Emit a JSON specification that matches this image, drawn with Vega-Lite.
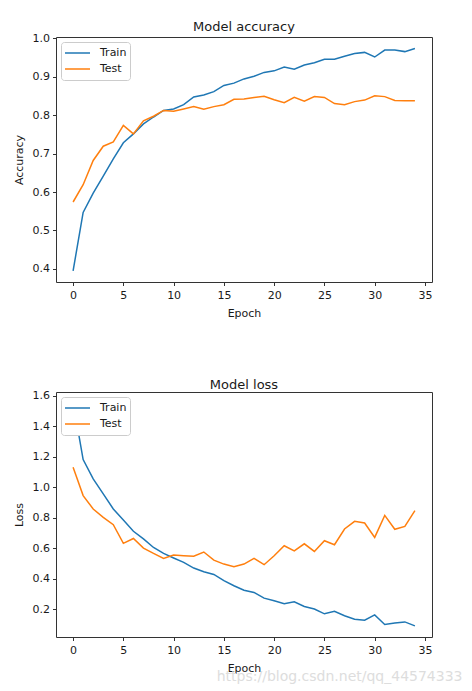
{
  "$schema": "https://vega.github.io/schema/vega-lite/v6.json",
  "padding": {"left": 12, "top": 20, "right": 0, "bottom": 0},
  "background": "white",
  "config": {
    "font": "DejaVu Sans",
    "view": {"stroke": "#333333", "strokeWidth": 1},
    "title": {"fontSize": 13, "fontWeight": "normal", "color": "#1a1a1a", "offset": -2},
    "axis": {
      "domain": false,
      "grid": false,
      "tickColor": "#333333",
      "tickSize": 3.5,
      "labelFontSize": 11,
      "labelColor": "#1a1a1a",
      "labelPadding": 3,
      "titleFontSize": 11,
      "titleFontWeight": "normal",
      "titleColor": "#1a1a1a"
    },
    "axisX": {"labelPadding": 4, "titlePadding": 7},
    "legend": {
      "orient": "top-left",
      "offset": 5,
      "padding": 3,
      "fillColor": "white",
      "strokeColor": "#cccccc",
      "cornerRadius": 3,
      "symbolType": "stroke",
      "symbolSize": 625,
      "symbolStrokeWidth": 1.5,
      "labelFontSize": 11,
      "labelColor": "#1a1a1a",
      "labelOffset": 9,
      "clipHeight": 16,
      "rowPadding": 0
    }
  },
  "title": {
    "text": "https://blog.csdn.net/qq_44574333",
    "orient": "bottom",
    "anchor": "end",
    "fontSize": 14,
    "color": "#dddddd",
    "offset": -4,
    "dx": 30
  },
  "datasets": {
    "accuracy": [
      {"epoch": 0, "set": "Train", "value": 0.395}, {"epoch": 1, "set": "Train", "value": 0.547},
      {"epoch": 2, "set": "Train", "value": 0.597}, {"epoch": 3, "set": "Train", "value": 0.641},
      {"epoch": 4, "set": "Train", "value": 0.686}, {"epoch": 5, "set": "Train", "value": 0.728},
      {"epoch": 6, "set": "Train", "value": 0.751}, {"epoch": 7, "set": "Train", "value": 0.777},
      {"epoch": 8, "set": "Train", "value": 0.795}, {"epoch": 9, "set": "Train", "value": 0.812},
      {"epoch": 10, "set": "Train", "value": 0.816}, {"epoch": 11, "set": "Train", "value": 0.827},
      {"epoch": 12, "set": "Train", "value": 0.847}, {"epoch": 13, "set": "Train", "value": 0.852},
      {"epoch": 14, "set": "Train", "value": 0.861}, {"epoch": 15, "set": "Train", "value": 0.877},
      {"epoch": 16, "set": "Train", "value": 0.883}, {"epoch": 17, "set": "Train", "value": 0.894},
      {"epoch": 18, "set": "Train", "value": 0.901}, {"epoch": 19, "set": "Train", "value": 0.911},
      {"epoch": 20, "set": "Train", "value": 0.915}, {"epoch": 21, "set": "Train", "value": 0.925},
      {"epoch": 22, "set": "Train", "value": 0.919}, {"epoch": 23, "set": "Train", "value": 0.930},
      {"epoch": 24, "set": "Train", "value": 0.936}, {"epoch": 25, "set": "Train", "value": 0.945},
      {"epoch": 26, "set": "Train", "value": 0.945}, {"epoch": 27, "set": "Train", "value": 0.953},
      {"epoch": 28, "set": "Train", "value": 0.960}, {"epoch": 29, "set": "Train", "value": 0.963},
      {"epoch": 30, "set": "Train", "value": 0.951}, {"epoch": 31, "set": "Train", "value": 0.969},
      {"epoch": 32, "set": "Train", "value": 0.969}, {"epoch": 33, "set": "Train", "value": 0.965},
      {"epoch": 34, "set": "Train", "value": 0.973},
      {"epoch": 0, "set": "Test", "value": 0.574}, {"epoch": 1, "set": "Test", "value": 0.619},
      {"epoch": 2, "set": "Test", "value": 0.682}, {"epoch": 3, "set": "Test", "value": 0.719},
      {"epoch": 4, "set": "Test", "value": 0.730}, {"epoch": 5, "set": "Test", "value": 0.773},
      {"epoch": 6, "set": "Test", "value": 0.751}, {"epoch": 7, "set": "Test", "value": 0.785},
      {"epoch": 8, "set": "Test", "value": 0.797}, {"epoch": 9, "set": "Test", "value": 0.812},
      {"epoch": 10, "set": "Test", "value": 0.810}, {"epoch": 11, "set": "Test", "value": 0.816},
      {"epoch": 12, "set": "Test", "value": 0.822}, {"epoch": 13, "set": "Test", "value": 0.815},
      {"epoch": 14, "set": "Test", "value": 0.822}, {"epoch": 15, "set": "Test", "value": 0.827},
      {"epoch": 16, "set": "Test", "value": 0.841}, {"epoch": 17, "set": "Test", "value": 0.842},
      {"epoch": 18, "set": "Test", "value": 0.846}, {"epoch": 19, "set": "Test", "value": 0.849},
      {"epoch": 20, "set": "Test", "value": 0.840}, {"epoch": 21, "set": "Test", "value": 0.832},
      {"epoch": 22, "set": "Test", "value": 0.846}, {"epoch": 23, "set": "Test", "value": 0.836},
      {"epoch": 24, "set": "Test", "value": 0.848}, {"epoch": 25, "set": "Test", "value": 0.846},
      {"epoch": 26, "set": "Test", "value": 0.830}, {"epoch": 27, "set": "Test", "value": 0.827},
      {"epoch": 28, "set": "Test", "value": 0.835}, {"epoch": 29, "set": "Test", "value": 0.839},
      {"epoch": 30, "set": "Test", "value": 0.850}, {"epoch": 31, "set": "Test", "value": 0.848},
      {"epoch": 32, "set": "Test", "value": 0.838}, {"epoch": 33, "set": "Test", "value": 0.837},
      {"epoch": 34, "set": "Test", "value": 0.837}
    ],
    "loss": [
      {"epoch": 0, "set": "Train", "value": 1.556}, {"epoch": 1, "set": "Train", "value": 1.180},
      {"epoch": 2, "set": "Train", "value": 1.053}, {"epoch": 3, "set": "Train", "value": 0.955},
      {"epoch": 4, "set": "Train", "value": 0.856}, {"epoch": 5, "set": "Train", "value": 0.784},
      {"epoch": 6, "set": "Train", "value": 0.710}, {"epoch": 7, "set": "Train", "value": 0.660},
      {"epoch": 8, "set": "Train", "value": 0.604}, {"epoch": 9, "set": "Train", "value": 0.565},
      {"epoch": 10, "set": "Train", "value": 0.535}, {"epoch": 11, "set": "Train", "value": 0.506},
      {"epoch": 12, "set": "Train", "value": 0.469}, {"epoch": 13, "set": "Train", "value": 0.445},
      {"epoch": 14, "set": "Train", "value": 0.427}, {"epoch": 15, "set": "Train", "value": 0.386},
      {"epoch": 16, "set": "Train", "value": 0.353}, {"epoch": 17, "set": "Train", "value": 0.324},
      {"epoch": 18, "set": "Train", "value": 0.309}, {"epoch": 19, "set": "Train", "value": 0.272},
      {"epoch": 20, "set": "Train", "value": 0.254}, {"epoch": 21, "set": "Train", "value": 0.235},
      {"epoch": 22, "set": "Train", "value": 0.248}, {"epoch": 23, "set": "Train", "value": 0.217},
      {"epoch": 24, "set": "Train", "value": 0.200}, {"epoch": 25, "set": "Train", "value": 0.169},
      {"epoch": 26, "set": "Train", "value": 0.186}, {"epoch": 27, "set": "Train", "value": 0.156},
      {"epoch": 28, "set": "Train", "value": 0.134}, {"epoch": 29, "set": "Train", "value": 0.127},
      {"epoch": 30, "set": "Train", "value": 0.162}, {"epoch": 31, "set": "Train", "value": 0.099},
      {"epoch": 32, "set": "Train", "value": 0.108}, {"epoch": 33, "set": "Train", "value": 0.116},
      {"epoch": 34, "set": "Train", "value": 0.090},
      {"epoch": 0, "set": "Test", "value": 1.130}, {"epoch": 1, "set": "Test", "value": 0.944},
      {"epoch": 2, "set": "Test", "value": 0.856}, {"epoch": 3, "set": "Test", "value": 0.801},
      {"epoch": 4, "set": "Test", "value": 0.753}, {"epoch": 5, "set": "Test", "value": 0.631},
      {"epoch": 6, "set": "Test", "value": 0.663}, {"epoch": 7, "set": "Test", "value": 0.600},
      {"epoch": 8, "set": "Test", "value": 0.565}, {"epoch": 9, "set": "Test", "value": 0.532},
      {"epoch": 10, "set": "Test", "value": 0.554}, {"epoch": 11, "set": "Test", "value": 0.550},
      {"epoch": 12, "set": "Test", "value": 0.547}, {"epoch": 13, "set": "Test", "value": 0.574},
      {"epoch": 14, "set": "Test", "value": 0.521}, {"epoch": 15, "set": "Test", "value": 0.495},
      {"epoch": 16, "set": "Test", "value": 0.477}, {"epoch": 17, "set": "Test", "value": 0.495},
      {"epoch": 18, "set": "Test", "value": 0.532}, {"epoch": 19, "set": "Test", "value": 0.491},
      {"epoch": 20, "set": "Test", "value": 0.550}, {"epoch": 21, "set": "Test", "value": 0.615},
      {"epoch": 22, "set": "Test", "value": 0.582}, {"epoch": 23, "set": "Test", "value": 0.628},
      {"epoch": 24, "set": "Test", "value": 0.578}, {"epoch": 25, "set": "Test", "value": 0.648},
      {"epoch": 26, "set": "Test", "value": 0.622}, {"epoch": 27, "set": "Test", "value": 0.725},
      {"epoch": 28, "set": "Test", "value": 0.775}, {"epoch": 29, "set": "Test", "value": 0.764},
      {"epoch": 30, "set": "Test", "value": 0.670}, {"epoch": 31, "set": "Test", "value": 0.814},
      {"epoch": 32, "set": "Test", "value": 0.723}, {"epoch": 33, "set": "Test", "value": 0.742},
      {"epoch": 34, "set": "Test", "value": 0.845}
    ]
  },
  "spacing": 59,
  "resolve": {"scale": {"color": "independent"}, "legend": {"color": "independent"}},
  "vconcat": [
    {
      "title": "Model accuracy",
      "width": 376,
      "height": 245,
      "data": {"name": "accuracy"},
      "mark": {"type": "line", "strokeWidth": 1.5},
      "encoding": {
        "x": {
          "field": "epoch", "type": "quantitative", "title": "Epoch",
          "scale": {"domain": [-1.7, 35.7], "nice": false, "zero": false},
          "axis": {"values": [0, 5, 10, 15, 20, 25, 30, 35]}
        },
        "y": {
          "field": "value", "type": "quantitative", "title": "Accuracy",
          "scale": {"domain": [0.366, 1.003], "nice": false, "zero": false},
          "axis": {"values": [0.4, 0.5, 0.6, 0.7, 0.8, 0.9, 1.0], "format": ".1f", "titlePadding": 8}
        },
        "color": {
          "field": "set", "type": "nominal", "sort": ["Train", "Test"],
          "scale": {"domain": ["Train", "Test"], "range": ["#1f77b4", "#ff7f0e"]},
          "legend": {"title": null}
        }
      }
    },
    {
      "title": "Model loss",
      "width": 376,
      "height": 245,
      "data": {"name": "loss"},
      "mark": {"type": "line", "strokeWidth": 1.5},
      "encoding": {
        "x": {
          "field": "epoch", "type": "quantitative", "title": "Epoch",
          "scale": {"domain": [-1.7, 35.7], "nice": false, "zero": false},
          "axis": {"values": [0, 5, 10, 15, 20, 25, 30, 35]}
        },
        "y": {
          "field": "value", "type": "quantitative", "title": "Loss",
          "scale": {"domain": [0.017, 1.623], "nice": false, "zero": false},
          "axis": {"values": [0.2, 0.4, 0.6, 0.8, 1.0, 1.2, 1.4, 1.6], "format": ".1f", "titlePadding": 8}
        },
        "color": {
          "field": "set", "type": "nominal", "sort": ["Train", "Test"],
          "scale": {"domain": ["Train", "Test"], "range": ["#1f77b4", "#ff7f0e"]},
          "legend": {"title": null}
        }
      }
    }
  ]
}
